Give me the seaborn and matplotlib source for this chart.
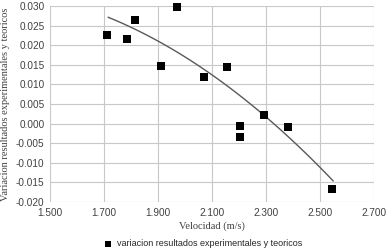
import numpy as np
import pandas as pd
import seaborn as sns
import matplotlib.pyplot as plt

# datos
velocidad = [1.711, 1.786, 1.815, 1.910, 1.971, 2.069, 2.154, 2.205, 2.205, 2.293, 2.380, 2.546]
variacion = [0.0227, 0.0217, 0.0264, 0.0146, 0.0297, 0.0118, 0.0145, -0.0006, -0.0033, 0.0021, -0.0009, -0.0168]

# puntos leidos sobre la linea de tendencia
tend_x = [1.715, 1.901, 2.056, 2.167, 2.302, 2.438, 2.549]
tend_y = [0.0271, 0.0209, 0.0147, 0.0094, 0.0014, -0.0076, -0.0142]

x_ticks = [1.5, 1.7, 1.9, 2.1, 2.3, 2.5, 2.7]
y_ticks = [-0.020, -0.015, -0.010, -0.005, 0.000, 0.005, 0.010, 0.015, 0.020, 0.025, 0.030]

df = pd.DataFrame({"Velocidad": velocidad, "Variacion": variacion})

# suavizar la tendencia con un polinomio de orden 2
coef = np.polyfit(tend_x, tend_y, 2)
xs = np.linspace(tend_x[0], tend_x[-1], 100)
trend = pd.DataFrame({"x": xs, "y": np.polyval(coef, xs)})

sns.set_style("white")
fig = plt.figure(figsize=(3.89, 2.5), dpi=100)
ax = fig.add_axes([50 / 389, 1 - 202 / 250, 324 / 389, 196 / 250])

sns.lineplot(data=trend, x="x", y="y", ax=ax, color="#595959", linewidth=1.0)
sns.scatterplot(data=df, x="Velocidad", y="Variacion", ax=ax, marker="s", s=32,
                color="black", edgecolor="black", linewidth=0,
                label="variacion resultados experimentales y teoricos", zorder=3,
                clip_on=False)

ax.set_xlim(1.5, 2.7)
ax.set_ylim(-0.020, 0.030)
ax.set_xticks(x_ticks)
ax.set_yticks(y_ticks)
ax.set_xticklabels([f"{t:.3f}" for t in x_ticks], fontsize=7.2, color="#404040", family="Liberation Sans")
ax.set_yticklabels([f"{t:.3f}" for t in y_ticks], fontsize=7.2, color="#404040", family="Liberation Sans")
ax.tick_params(length=0, pad=4)
ax.grid(True, color="#c8c8c8", linewidth=0.8)
for s in ax.spines.values():
    s.set_visible(False)

ax.set_xlabel("Velocidad (m/s)", family="Liberation Serif", fontsize=7.5, color="#404040", labelpad=3)
ax.set_ylabel("Variacion resultados experimentales y teoricos", family="Liberation Serif",
              fontsize=7.5, color="#404040", labelpad=4)

ax.legend(loc="upper center", bbox_to_anchor=(0.465, -0.17), frameon=False,
          prop={"family": "Liberation Sans", "size": 6.5}, handletextpad=0.0,
          markerscale=0.85, borderaxespad=0)

fig.savefig("out.png", dpi=100)
